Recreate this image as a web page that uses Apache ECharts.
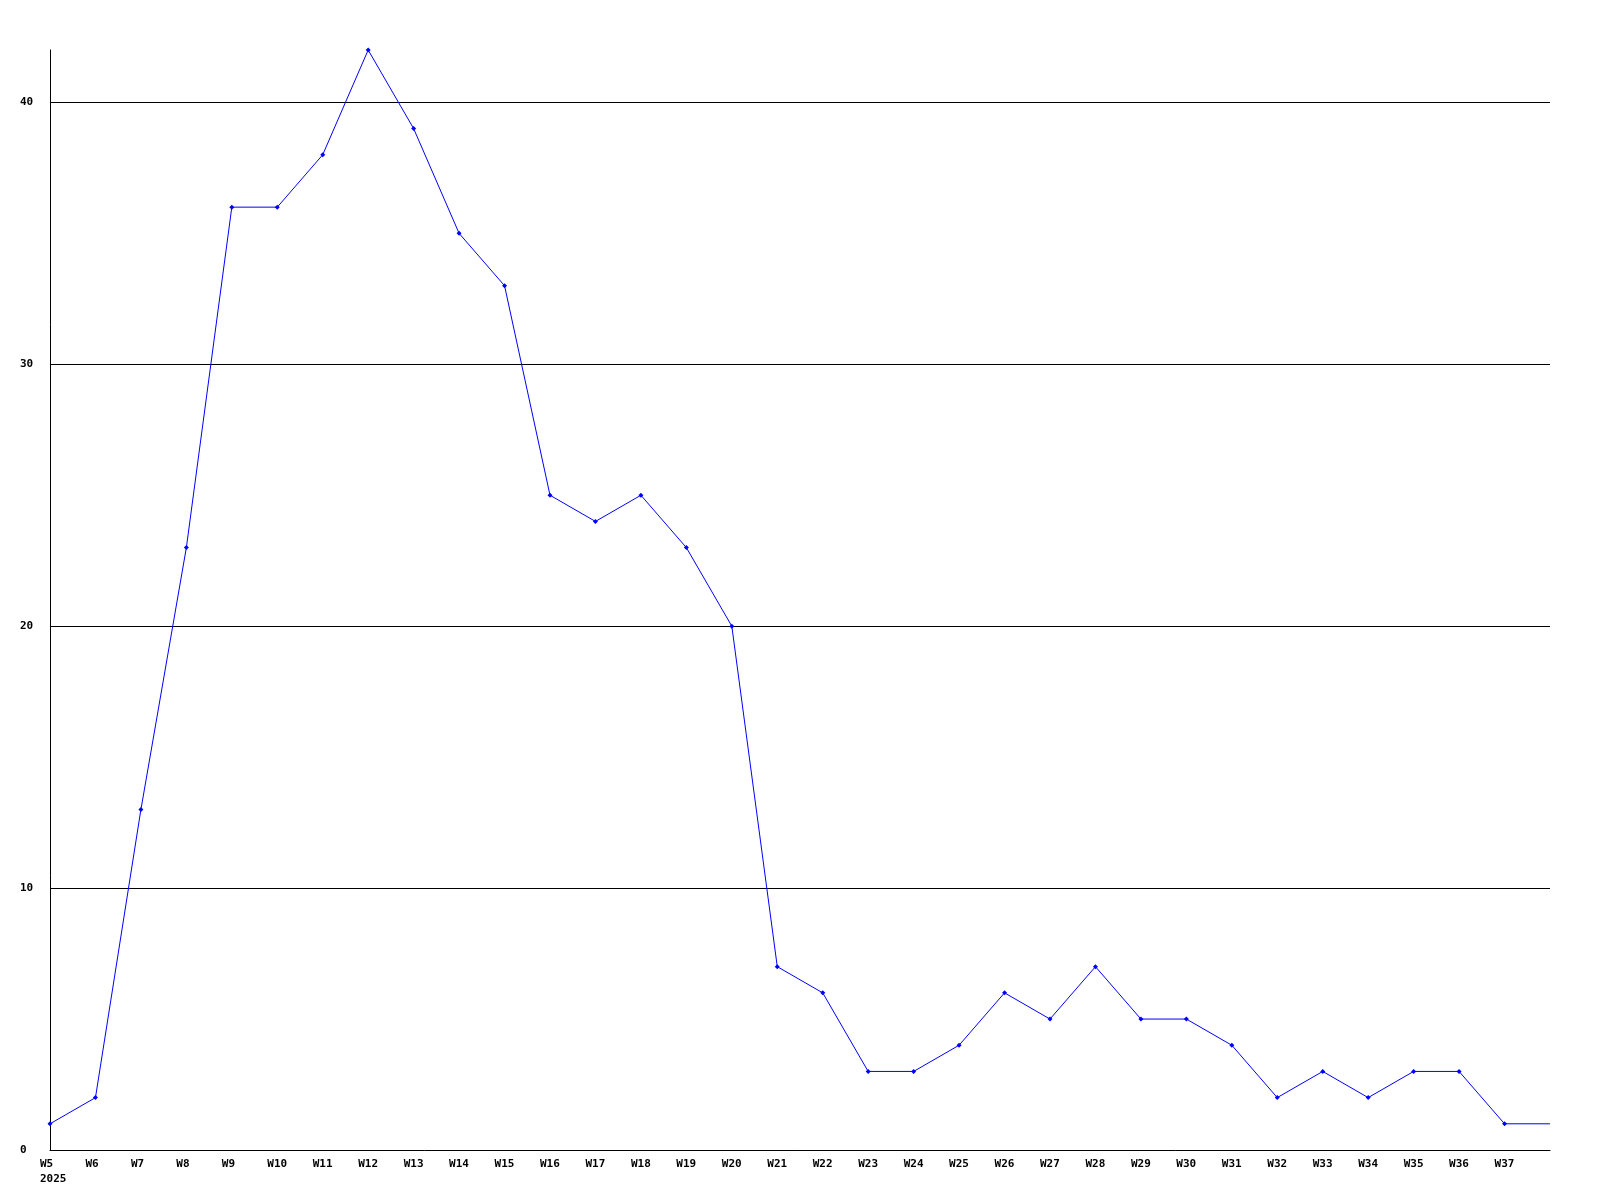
<!DOCTYPE html>
<html><head><meta charset="utf-8">
<script src="https://cdn.jsdelivr.net/npm/echarts@6/dist/echarts.min.js"></script>
<style>html,body{margin:0;padding:0;background:#fff}#c{width:1600px;height:1200px}</style>
</head><body><div id="c"></div>
<script>
const weeks = ['W5','W6','W7','W8','W9','W10','W11','W12','W13','W14','W15','W16','W17','W18','W19','W20','W21','W22','W23','W24','W25','W26','W27','W28','W29','W30','W31','W32','W33','W34','W35','W36','W37','W38'];
const weekLabels = ['W5\n2025','W6','W7','W8','W9','W10','W11','W12','W13','W14','W15','W16','W17','W18','W19','W20','W21','W22','W23','W24','W25','W26','W27','W28','W29','W30','W31','W32','W33','W34','W35','W36','W37',''];
const counts = [1,2,13,23,36,36,38,42,39,35,33,25,24,25,23,20,7,6,3,3,4,6,5,7,5,5,4,2,3,2,3,3,1,1];

const chart = echarts.init(document.getElementById('c'));
const font = {fontFamily:'DejaVu Sans Mono', fontWeight:'bold', fontSize:11, color:'#000'};
chart.setOption({
  animation:false,
  backgroundColor:'#fff',
  grid:{left:50,right:50,top:50,bottom:50,containLabel:false},
  xAxis:{
    type:'category', data:weeks, boundaryGap:false,
    axisLine:{lineStyle:{color:'#000',width:1}},
    axisTick:{show:false},
    splitLine:{show:false},
    axisLabel:Object.assign({interval:0, align:'left', margin:7, padding:[0,0,0,-10], lineHeight:15,
      formatter:(v,i)=>weekLabels[i]}, font)
  },
  yAxis:{
    type:'value', min:0, max:42, interval:10,
    axisLine:{show:true,lineStyle:{color:'#000',width:1}},
    axisTick:{show:false},
    splitLine:{show:true, showMaxLine:false, showMinLine:false, lineStyle:{color:'#000',width:1}},
    axisLabel:Object.assign({align:'left', margin:30, showMaxLabel:false}, font)
  },
  series:[{
    type:'line',
    data:counts.map((v,i)=> i===counts.length-1 ? {value:v, symbol:'none'} : v),
    symbol:'diamond', symbolSize:5,
    showAllSymbol:true,
    lineStyle:{color:'#0000ff',width:1},
    itemStyle:{color:'#0000ff'}
  }]
});
</script></body></html>
